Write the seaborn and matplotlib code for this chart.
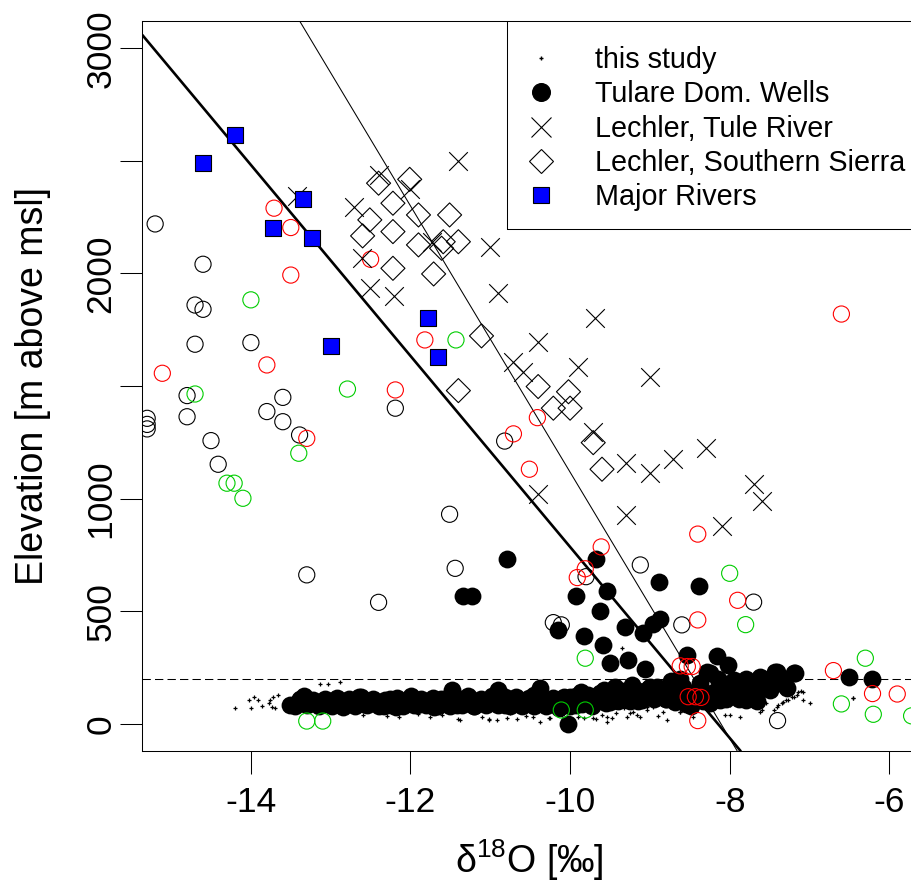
import numpy as np
import pandas as pd
import matplotlib
matplotlib.use("Agg")
import matplotlib.pyplot as plt
from matplotlib.lines import Line2D
from matplotlib.patches import Rectangle
import seaborn as sns

# ---------------- data ----------------
# "this study" (small + markers)
study_x = [-14.20, -14.02, -13.96, -13.91, -14.00, -13.86, -13.76, -13.72, -13.66, -13.74, -13.70, -13.77,
           -13.13, -13.03, -12.88, -11.52,
           -12.15, -11.76, -11.40, -11.38, -11.02, -10.92, -10.79, -10.88, -10.75, -10.67, -10.38, -10.27,
           -9.96, -9.83, -9.67, -9.54, -9.42, -9.29, -9.21, -9.12, -9.04, -8.96, -8.87, -8.79, -8.83,
           -8.79, -8.71, -8.62, -8.46, -8.54, -8.37, -8.08, -8.06, -8.00, -7.87, -8.00, -7.62, -7.54,
           -7.62, -7.41, -7.35, -7.29, -7.22, -7.16, -7.08, -6.99, -7.08, -6.45, -9.35, -7.60, -7.45,
           -7.39, -7.33, -7.27, -7.20, -7.14, -7.10, -6.46,
           -11.01, -10.88, -10.46, -10.25, -9.71, -9.54, -9.33, -9.25, -9.04, -8.96, -8.83, -8.62,
           -12.60, -12.30, -11.90, -11.60, -11.10, -10.55, -10.10, -9.90, -9.60, -9.48, -9.16, -8.90]
study_y = [72, 107, 121, 107, 72, 80, 107, 121, 129, 77, 70, 92,
           178, 178, 188, 170,
           32, 32, 21, 18, 21, 18, 25, 62, 47, 21, 10, 25,
           18, 25, 21, 10, 47, 32, 55, 32, 77, 84, 92, 114, 55,
           18, 84, 55, 32, 107, 151, 92, 40, 40, 32, 84, 92, 92,
           55, 77, 92, 107, 121, 129, 143, 92, 107, 114, 336, 62, 62,
           84, 99, 107, 121, 143, 148, 114,
           18, 70, 32, 25, 25, 32, 70, 47, 62, 77, 114, 55,
           40, 35, 45, 38, 30, 36, 40, 30, 40, 28, 42, 36]

# Tulare domestic wells (filled circles)
tulare_x = [-13.51, -13.40, -13.33, -13.20, -13.09, -12.98, -12.90, -12.84, -12.75, -12.65, -12.58, -12.50,
            -12.42, -12.33, -12.26, -12.18, -12.10, -11.99, -11.92, -11.85, -11.78, -11.70, -11.62, -11.55,
            -11.48, -11.42, -11.35, -11.28, -11.20, -11.12, -11.05, -10.98, -10.90, -10.82, -10.75, -10.68,
            -10.60, -10.52, -10.45, -10.38, -10.30, -10.22, -10.14, -10.07, -10.00, -9.93, -9.86, -9.80,
            -9.72, -9.65, -9.58, -9.50, -9.44, -9.38, -9.30, -9.22, -9.15, -9.08, -9.00, -8.94, -8.88,
            -8.80, -8.74, -8.68,
            -13.45, -13.30, -13.15, -13.00, -12.85, -12.70, -12.55, -12.40, -12.25, -12.10, -11.95, -11.80,
            -11.65, -11.50, -11.35, -11.20, -11.05, -10.90, -10.75, -10.60, -10.45, -10.30, -10.15, -10.00,
            -9.85, -9.70, -9.55, -9.40, -9.25, -9.10, -8.95, -8.80,
            -13.38, -13.22, -13.07, -12.92, -12.77, -12.62, -12.47, -12.32, -12.17, -12.02, -11.87, -11.72,
            -11.57, -11.42, -11.27, -11.12, -10.97, -10.82, -10.67, -10.52, -10.37, -10.22, -10.07, -9.92,
            -9.77, -9.62, -9.47, -9.32, -9.17, -9.02, -8.87, -8.72,
            -8.62, -8.58, -8.55, -8.48, -8.40, -8.33, -8.28, -8.20, -8.15, -8.10, -8.02, -7.95, -7.88,
            -7.80, -7.72, -7.66, -7.58, -7.50, -7.40, -7.32, -7.28, -8.45, -8.30, -8.05, -7.85, -7.68,
            -10.79, -11.34, -11.23, -9.67, -9.93, -9.54, -9.63, -8.89, -8.38, -10.15, -9.83, -9.59,
            -9.31, -9.08, -8.96, -8.87, -9.50, -9.27, -9.06, -8.54, -8.16, -8.02, -7.41, -7.18, -6.51,
            -6.22, -10.02, -8.58, -8.37, -8.25, -7.75, -7.79, -7.54, -8.12, -8.91, -7.20, -7.43, -8.66,
            -8.25, -7.95, -7.62]
tulare_y = [84, 100, 124, 96, 89, 80, 104, 77, 95, 121, 88, 104,
            92, 80, 110, 77, 96, 124, 84, 104, 92, 76, 112, 107,
            150, 86, 100, 122, 80, 104, 92, 126, 150, 86, 104, 120,
            80, 100, 130, 160, 88, 110, 72, 96, 120, 84, 140, 100,
            80, 120, 150, 96, 166, 110, 140, 172, 100, 130, 166, 120, 150,
            110, 190, 96,
            82, 86, 80, 84, 78, 82, 85, 80, 84, 79, 83, 86,
            80, 82, 85, 78, 83, 86, 80, 84, 82, 80, 86, 82,
            88, 92, 95, 100, 104, 108, 110, 112,
            112, 108, 110, 114, 110, 118, 112, 108, 115, 110, 112, 116,
            110, 114, 108, 112, 115, 118, 112, 116, 120, 114, 118, 122,
            130, 136, 140, 145, 150, 155, 150, 160,
            200, 130, 90, 80, 150, 100, 230, 140, 200, 180, 130, 160, 110,
            200, 140, 100, 200, 150, 180, 200, 160, 110, 130, 110, 150, 170,
            731, 568, 568, 731, 568, 592, 503, 632, 613, 417, 391, 351,
            429, 405, 444, 465, 269, 284, 243, 306, 302, 262, 232, 225, 210,
            198, 0, 166, 181, 225, 166, 107, 166, 107, 166, 228, 232, 136,
            92, 195, 210]

# Lechler, Tule River (x markers)
tule_x = [-13.42, -12.40, -12.01, -12.71, -11.73, -11.40, -11.00, -12.61, -12.51, -12.21, -10.90, -9.69,
          -10.40, -10.71, -9.90, -10.59, -9.71, -9.00, -9.30, -9.00, -8.71, -8.30, -7.70, -7.60,
          -10.40, -9.30, -8.10]
tule_y = [2345, 2437, 2374, 2294, 2141, 2501, 2117, 2068, 1934, 1900, 1912, 1801,
          1697, 1609, 1586, 1564, 1298, 1539, 1157, 1113, 1177, 1227, 1066, 991,
          1021, 928, 879]

# Lechler, Southern Sierra (open diamonds)
sierra_x = [-12.40, -12.01, -12.22, -12.51, -11.90, -12.60, -12.22, -11.51, -11.90, -11.59, -11.40,
            -11.61, -12.22, -11.71, -11.11, -11.40, -10.40, -10.02, -10.21, -10.00, -9.71, -9.60]
sierra_y = [2401, 2418, 2312, 2238, 2260, 2167, 2186, 2260, 2127, 2141, 2141,
            2112, 2023, 1998, 1723, 1480, 1498, 1475, 1402, 1402, 1249, 1131]

# Major rivers (blue squares)
rivers_x = [-14.20, -14.60, -13.35, -13.72, -13.24, -11.78, -12.99, -11.66]
rivers_y = [2615, 2489, 2331, 2204, 2157, 1801, 1680, 1628]

# other open circles (black, red, green)
open_black_x = [-15.20, -14.60, -14.70, -14.60, -14.70, -14.00, -14.80, -15.30, -15.30, -15.30, -14.80,
                -14.50, -14.41, -13.60, -13.80, -13.60, -13.39, -12.19, -11.51, -13.30, -11.44, -12.40,
                -10.82, -10.21, -10.11, -9.80, -9.12, -8.60, -7.70, -7.40]
open_black_y = [2220, 2041, 1860, 1841, 1686, 1693, 1458, 1357, 1330, 1310, 1364,
                1258, 1153, 1450, 1387, 1342, 1283, 1402, 931, 662, 691, 540,
                1256, 450, 440, 654, 706, 440, 541, 15]
open_red_x = [-13.71, -13.50, -13.50, -12.50, -15.11, -13.80, -13.30, -12.19, -11.82, -10.41, -10.71,
              -10.51, -8.40, -9.61, -9.81, -9.91, -8.40, -7.90, -8.62, -8.53, -8.47, -8.52, -8.43,
              -8.36, -8.40, -6.70, -6.21, -5.90, -6.60]
open_red_y = [2290, 2204, 1993, 2063, 1557, 1594, 1268, 1483, 1705, 1360, 1288,
              1131, 843, 786, 689, 650, 462, 549, 258, 255, 255, 121, 121,
              118, 15, 237, 135, 133, 1820]
open_green_x = [-14.00, -14.70, -13.40, -12.79, -14.30, -14.21, -14.10, -11.43, -9.81, -10.11, -9.81,
                -8.00, -7.80, -6.30, -6.60, -6.20, -5.72, -13.30, -13.10]
open_green_y = [1883, 1465, 1202, 1487, 1069, 1069, 1002, 1705, 292, 62, 62,
                669, 441, 292, 89, 43, 36, 13, 13]

# regression lines (intercept, slope) and reference level
line_intercepts = [-3454.0, -4792.0]
line_slopes = [-424.0, -591.0]
line_widths = [1.9, 0.75]
ref_level = 200

x_ticks = [-14, -12, -10, -8, -6]
x_tick_labels = ["-14", "-12", "-10", "-8", "-6"]
y_ticks = [0, 500, 1000, 1500, 2000, 2500, 3000]
y_tick_labels = ["0", "500", "1000", "", "2000", "", "3000"]

legend_labels = ["this study", "Tulare Dom. Wells", "Lechler, Tule River",
                 "Lechler, Southern Sierra", "Major Rivers"]

RED = "#FF0000"
GREEN = "#00CD00"
BLUE = "#0000FF"

# ---------------- style ----------------
sns.set_style("ticks")
plt.rcParams["font.family"] = ["Liberation Sans", "DejaVu Sans"]
plt.rcParams["mathtext.fontset"] = "custom"
plt.rcParams["mathtext.rm"] = "Liberation Sans"
plt.rcParams["mathtext.default"] = "regular"
plt.rcParams["axes.unicode_minus"] = False

W, H = 911, 882
fig = plt.figure(figsize=(W / 100, H / 100), dpi=100)
fig.patch.set_facecolor("white")
L, R, T, B = 142.3, 916.0, 21.0, 751.0
ax = fig.add_axes([L / W, 1 - B / H, (R - L) / W, (B - T) / H])
ax.set_facecolor("white")

# reference lines
ax.axhline(ref_level, color="black", lw=0.75, ls=(0, (8, 4)), zorder=1)
for a, b, lw in zip(line_intercepts, line_slopes, line_widths):
    ax.axline((0, a), slope=b, color="black", lw=lw, zorder=1.5)

# points
sns.scatterplot(x=study_x, y=study_y, marker="+", s=10, color="black", linewidth=0.9, ax=ax, zorder=2)
sns.scatterplot(x=tulare_x, y=tulare_y, marker="o", s=165, color="black", edgecolor="black",
                linewidth=0, ax=ax, zorder=3)
for xs, ys, col in [(open_black_x, open_black_y, "black"), (open_red_x, open_red_y, RED),
                    (open_green_x, open_green_y, GREEN)]:
    sns.scatterplot(x=xs, y=ys, marker="o", s=135, color=col, facecolor="none", edgecolor=col,
                    linewidth=0.8, ax=ax, zorder=4)
sns.scatterplot(x=tule_x, y=tule_y, marker="x", s=180, color="black", linewidth=0.8, ax=ax, zorder=4)
sns.scatterplot(x=sierra_x, y=sierra_y, marker="D", s=150, color="black", facecolor="none",
                edgecolor="black", linewidth=0.8, ax=ax, zorder=4)
sns.scatterplot(x=rivers_x, y=rivers_y, marker="s", s=128, color=BLUE, edgecolor="black",
                linewidth=0.8, ax=ax, zorder=5)

# axes
ax.set_xlim(-15.361, -5.665)
ax.set_ylim(-120, 3121)
ax.set_xticks(x_ticks)
ax.set_xticklabels(x_tick_labels)
ax.set_yticks(y_ticks)
ax.set_yticklabels(y_tick_labels)
ax.tick_params(axis="both", direction="out", length=16.2, width=0.75, color="black",
               labelsize=25.5, labelcolor="black")
ax.tick_params(axis="x", pad=8.8)
ax.tick_params(axis="y", pad=1.5)
for lab in ax.get_yticklabels():
    lab.set_rotation(90)
    lab.set_va("center")
for s in ax.spines.values():
    s.set_linewidth(0.75)
    s.set_color("black")
ax.spines["right"].set_visible(False)
ax.grid(False)

ax.set_xlabel(r"δ$^{18}$O [‰]", fontsize=27, color="black")
ax.xaxis.label.set_va("baseline")
ax.xaxis.set_label_coords(0.5, (B - 873) / (B - T))
ax.set_ylabel("Elevation [m above msl]", fontsize=27, color="black")
ax.yaxis.label.set_va("center")
ax.yaxis.set_label_coords((32.7 - L) / (R - L), 0.5)

# legend
handles = [
    Line2D([], [], ls="none", marker="+", ms=3.5, mew=1.0, color="black"),
    Line2D([], [], ls="none", marker="o", ms=12.7, color="black", mec="black"),
    Line2D([], [], ls="none", marker="x", ms=14.2, mew=0.8, color="black"),
    Line2D([], [], ls="none", marker="D", ms=12.7, mfc="none", mec="black", mew=0.8),
    Line2D([], [], ls="none", marker="s", ms=12.0, mfc=BLUE, mec="black", mew=0.8),
]
leg = ax.legend(handles, legend_labels, loc="upper left",
                bbox_to_anchor=((521.2 - L) / (R - L), (B - 46.1) / (B - T)),
                bbox_transform=ax.transAxes, frameon=False, borderpad=0, borderaxespad=0,
                handlelength=1.4, handletextpad=1.18, labelspacing=0.22, fontsize=20.7,
                numpoints=1)
for t in leg.get_texts():
    t.set_color("black")
ax.add_patch(Rectangle(((507.3 - L) / (R - L), (B - 229.3) / (B - T)), 0.8, 1.0,
                       transform=ax.transAxes, fill=False, ec="black", lw=0.75, zorder=6))

fig.savefig("out.png", dpi=100, facecolor="white")
